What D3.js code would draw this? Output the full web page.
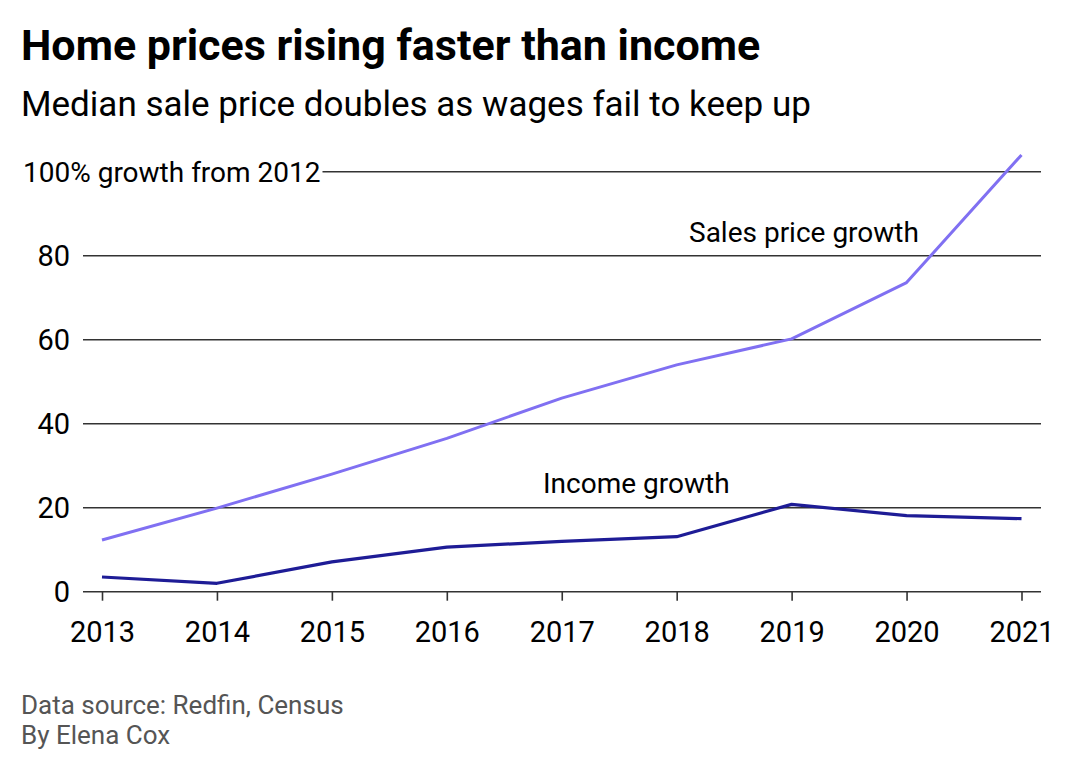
<!DOCTYPE html>
<html><head><meta charset="utf-8">
<script src="https://cdn.jsdelivr.net/npm/d3@7"></script>
<style>
html,body{margin:0;padding:0;background:#fff;}
text{font-family:Roboto,"Noto Sans",sans-serif;}
</style></head>
<body>
<svg id="chart" width="1080" height="770"></svg>
<script>
const years = [2013, 2014, 2015, 2016, 2017, 2018, 2019, 2020, 2021];
const salesPriceGrowth = [12.3, 19.9, 28.0, 36.5, 46.1, 54.0, 60.2, 73.6, 104.0];
const incomeGrowth = [3.5, 2.0, 7.1, 10.6, 12.0, 13.1, 20.8, 18.1, 17.4];
const yTicks = [0, 20, 40, 60, 80, 100];
const yTickLabels = ["0", "20", "40", "60", "80", "100% growth from 2012"];
const seriesNames = ["Sales price growth", "Income growth"];

const svg = d3.select("#chart");
const x = d3.scaleLinear().domain([2013, 2021]).range([102, 1021.5]);
const y = d3.scaleLinear().domain([0, 100]).range([591.7, 171.7]);
const gridLeft = 83, gridRight = 1041;

svg.append("text").attr("x", 21).attr("y", 60)
  .attr("font-size", 43).attr("font-weight", 700).attr("fill", "#000")
  .text("Home prices rising faster than income");
svg.append("text").attr("x", 21).attr("y", 116)
  .attr("font-size", 35).attr("fill", "#000")
  .text("Median sale price doubles as wages fail to keep up");

// y gridlines + labels
const gy = svg.append("g");
yTicks.forEach((t, i) => {
  const lbl = gy.append("text")
    .attr("y", y(t)).attr("dy", "0.36em")
    .attr("fill", "#000")
    .text(yTickLabels[i]);
  let x0 = gridLeft;
  if (i === yTicks.length - 1) {
    lbl.attr("x", 23).attr("text-anchor", "start").attr("font-size", 28);
    x0 = 23 + lbl.node().getComputedTextLength() + 2;
  } else {
    lbl.attr("x", 70).attr("text-anchor", "end").attr("font-size", 29);
  }
  gy.append("line").attr("x1", x0).attr("x2", gridRight)
    .attr("y1", y(t)).attr("y2", y(t))
    .attr("stroke", "#333").attr("stroke-width", 1.6);
});

// x axis
const xAxis = d3.axisBottom(x).tickValues(years).tickFormat(d3.format("d"))
  .tickSize(9).tickPadding(20.5);
const gx = svg.append("g").attr("transform", `translate(0,${y(0)})`).call(xAxis);
gx.select(".domain").remove();
gx.selectAll(".tick line").attr("stroke", "#333").attr("stroke-width", 1.6);
gx.selectAll(".tick text").attr("font-size", 29).attr("fill", "#000")
  .attr("font-family", "Roboto, 'Noto Sans', sans-serif");

// lines
const line = d3.line().x((d, i) => x(years[i])).y(d => y(d));
svg.append("path").datum(salesPriceGrowth).attr("d", line)
  .attr("fill", "none").attr("stroke", "#8070f2").attr("stroke-width", 3)
  .attr("stroke-linejoin", "round");
svg.append("path").datum(incomeGrowth).attr("d", line)
  .attr("fill", "none").attr("stroke", "#1e1c96").attr("stroke-width", 3.2)
  .attr("stroke-linejoin", "round");

// series labels
svg.append("text").attr("x", 689).attr("y", 242)
  .attr("font-size", 28).attr("fill", "#000").text(seriesNames[0]);
svg.append("text").attr("x", 543).attr("y", 493)
  .attr("font-size", 28).attr("fill", "#000").text(seriesNames[1]);

// footer
svg.append("text").attr("x", 21).attr("y", 714)
  .attr("font-size", 26).attr("fill", "#555").text("Data source: Redfin, Census");
svg.append("text").attr("x", 21).attr("y", 744)
  .attr("font-size", 26).attr("fill", "#555").text("By Elena Cox");
</script>
</body></html>
